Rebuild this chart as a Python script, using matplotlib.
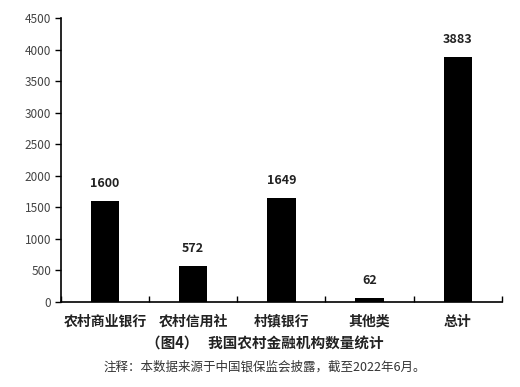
import numpy as np
import matplotlib
matplotlib.use("Agg")
import matplotlib.pyplot as plt

plt.rcParams['font.family'] = ['Noto Sans CJK SC', 'DejaVu Sans']

# === Data ===
categories = ['农村商业银行', '农村信用社', '村镇银行', '其他类', '总计']
counts = [1600, 572, 1649, 62, 3883]
yticks = [0, 500, 1000, 1500, 2000, 2500, 3000, 3500, 4000, 4500]

fig = plt.figure(figsize=(5.2, 3.87), dpi=100)
ax = fig.add_axes([0.1173, 0.2196, 0.8477, 0.7339])

x = np.arange(len(categories))
ax.bar(x, counts, width=0.32, color='black')

# value labels above bars
for xi, v in zip(x, counts):
    ax.text(xi, v + 170, str(v), ha='center', va='bottom',
            fontsize=9, fontweight='bold', color='#222222')

ax.set_xlim(-0.5, len(categories) - 0.5)
ax.set_ylim(0, 4500)
ax.set_yticks(yticks)
ax.tick_params(axis='y', direction='out', length=4, width=1,
               labelsize=8.5, labelcolor='#444444', pad=3)

# category labels centered, tick marks at the boundaries pointing up
ax.set_xticks(x)
ax.set_xticklabels(categories, fontsize=10, fontweight='bold', color='#222222')
ax.tick_params(axis='x', length=0, pad=9)
ax.set_xticks(np.arange(len(categories) + 1) - 0.5, minor=True)
ax.tick_params(axis='x', which='minor', direction='in', length=4, width=1)

for side in ['top', 'right']:
    ax.spines[side].set_visible(False)
for side in ['left', 'bottom']:
    ax.spines[side].set_linewidth(1.2)

fig.text(0.51, 0.112, '（图4）   我国农村金融机构数量统计', ha='center', va='center',
         fontsize=10.5, fontweight='bold', color='#222222')
fig.text(0.51, 0.052, '注释：本数据来源于中国银保监会披露，截至2022年6月。', ha='center', va='center',
         fontsize=9, color='#333333')

fig.savefig('out.png', dpi=100)
